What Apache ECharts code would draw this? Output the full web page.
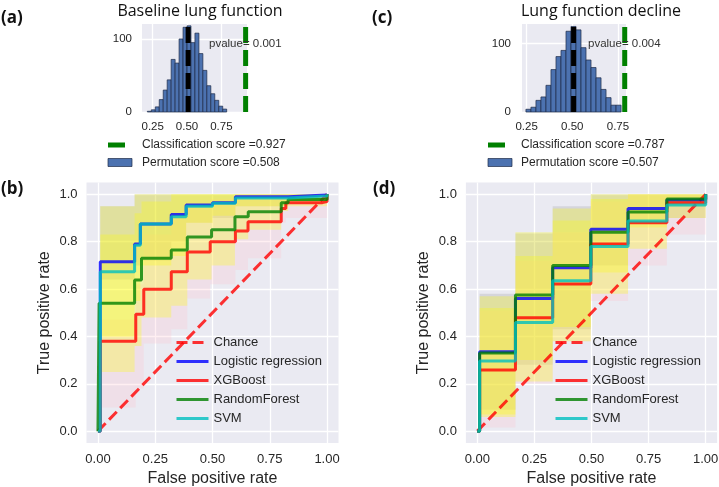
<!DOCTYPE html>
<html>
<head>
<meta charset="utf-8">
<script src="https://cdn.jsdelivr.net/npm/echarts@6/dist/echarts.min.js"></script>
<style>
  html, body { margin: 0; padding: 0; background: #fff; }
  #main { width: 719px; height: 487px; }
</style>
</head>
<body>
<div id="main"></div>
<script>
// ---- permutation histograms ----
var histACounts = [1, 3, 7, 17, 30, 44, 72, 67, 100, 116, 118, 95, 108, 80, 57, 36, 25, 16, 8, 4];
var histARange = [0.211, 0.789];
var scoreA = 0.927, permA = 0.508, pvalA = '0.001';

var histCCounts = [4, 7, 17, 22, 39, 62, 81, 90, 118, 125, 120, 94, 76, 65, 50, 33, 21, 10, 10];
var histCRange = [0.246, 0.767];
var scoreC = 0.787, permC = 0.507, pvalC = '0.004';

var histXTicks = [0.25, 0.5, 0.75];
var histYTicks = [0, 100];

// ---- ROC (b) baseline lung function: mean curves (step: level from x[i] until x[i+1]) ----
var lrBx  = [0, 0.01, 0.16, 0.185, 0.32, 0.385, 0.5, 0.6, 0.83, 1.0];
var lrBy  = [0, 0.715, 0.79, 0.875, 0.915, 0.955, 0.965, 0.99, 0.997, 1.0];
var svmBx = [0, 0.01, 0.16, 0.185, 0.32, 0.385, 0.5, 0.6, 0.83, 1.0];
var svmBy = [0, 0.673, 0.785, 0.875, 0.905, 0.95, 0.962, 0.985, 0.993, 1.0];
var rfBx  = [0, 0.005, 0.16, 0.19, 0.32, 0.39, 0.496, 0.598, 0.656, 0.8, 0.83, 1.0];
var rfBy  = [0, 0.54, 0.638, 0.73, 0.765, 0.82, 0.85, 0.905, 0.927, 0.965, 0.978, 1.0];
var xgbBx = [0, 0.01, 0.165, 0.2, 0.32, 0.39, 0.49, 0.6, 0.655, 0.8, 0.82, 0.98, 1.0];
var xgbBy = [0, 0.38, 0.494, 0.599, 0.673, 0.757, 0.80, 0.845, 0.884, 0.94, 0.965, 0.97, 1.0];

// bands (b): level on [x[i], x[i+1])
var lrBandBx = [0.01, 0.16, 0.185, 0.32, 0.385, 0.5, 0.6, 0.83, 1.0];
var lrBandBhi = [0.95, 1, 1, 1, 1, 1, 1, 1];
var lrBandBlo = [0.64, 0.7, 0.72, 0.8, 0.88, 0.9, 0.95, 0.97];
var svmBandBhi = [0.95, 1, 1, 1, 1, 1, 1, 1];
var svmBandBlo = [0.40, 0.55, 0.7, 0.74, 0.88, 0.91, 0.95, 0.97];
var rfBandBx = [0.01, 0.16, 0.19, 0.32, 0.39, 0.496, 0.598, 0.656, 0.8, 0.83, 1.0];
var rfBandBhi = [0.83, 0.92, 0.97, 1, 1, 1, 1, 1, 1, 1];
var rfBandBlo = [0.25, 0.36, 0.48, 0.53, 0.64, 0.7, 0.81, 0.85, 0.93, 0.95];
var xgbBandBx = [0.01, 0.165, 0.2, 0.32, 0.39, 0.49, 0.6, 0.655, 0.8, 0.82, 1.0];
var xgbBandBhi = [0.47, 0.62, 0.83, 0.91, 0.96, 0.98, 1, 1, 1, 1];
var xgbBandBlo = [0.1, 0.18, 0.37, 0.43, 0.56, 0.62, 0.68, 0.73, 0.88, 0.9];

// ---- ROC (d) lung function decline ----
var stepDx = [0, 0.01, 0.167, 0.33, 0.497, 0.66, 0.83, 1.0];
var lrDy  = [0, 0.335, 0.56, 0.69, 0.853, 0.94, 0.976, 1.0];
var xgbDy = [0, 0.258, 0.479, 0.621, 0.79, 0.88, 0.965, 1.0];
var rfDy  = [0, 0.33, 0.575, 0.70, 0.84, 0.925, 0.98, 1.0];
var svmDy = [0, 0.296, 0.459, 0.635, 0.78, 0.887, 0.955, 1.0];

var bandDx = [0.01, 0.167, 0.33, 0.497, 0.66, 0.83, 1.0];
var lrBandDhi  = [0.58, 0.835, 0.95, 1, 1, 1];
var lrBandDlo  = [0.09, 0.28, 0.43, 0.7, 0.88, 0.9];
var xgbBandDhi = [0.51, 0.72, 0.84, 0.97, 1, 1];
var xgbBandDlo = [0.015, 0.2, 0.38, 0.55, 0.7, 0.83];
var rfBandDhi  = [0.57, 0.84, 0.94, 1, 1, 1];
var rfBandDlo  = [0.07, 0.3, 0.44, 0.67, 0.86, 0.95];
var svmBandDhi = [0.52, 0.74, 0.89, 0.98, 1, 1];
var svmBandDlo = [0.06, 0.21, 0.38, 0.58, 0.77, 0.9];

var rocXTicks = [0, 0.25, 0.5, 0.75, 1.0];
var rocYTicks = [0, 0.2, 0.4, 0.6, 0.8, 1.0];
var modelNames = ['Chance', 'Logistic regression', 'XGBoost', 'RandomForest', 'SVM'];

var font = 'Liberation Sans, Arial, sans-serif';
var textCol = '#262626';
var bg = '#eaeaf2';
var col = {
  lr: 'rgba(0,0,255,0.8)', xgb: 'rgba(255,0,0,0.8)', rf: 'rgba(0,128,0,0.8)', svm: 'rgba(0,191,191,0.8)'
};
var fill = {
  grey: 'rgba(128,128,128,0.2)', pink: 'rgba(255,192,203,0.25)', yellow: 'rgba(255,255,0,0.28)'
};

var mychart = echarts.init(document.getElementById('main'));

function zip(xs, ys) {
  return xs.map(function (x, i) { return [x, ys[i]]; });
}

function histSeries(gi, counts, range) {
  var w = (range[1] - range[0]) / counts.length;
  var data = counts.map(function (c, i) { return [range[0] + i * w, range[0] + (i + 1) * w, c]; });
  return {
    type: 'custom', xAxisIndex: gi, yAxisIndex: gi, z: 2, silent: true,
    encode: { x: [0, 1], y: 2 },
    data: data,
    renderItem: function (params, api) {
      var p0 = api.coord([api.value(0), api.value(2)]);
      var p1 = api.coord([api.value(1), 0]);
      return {
        type: 'rect',
        shape: { x: p0[0], y: p0[1], width: p1[0] - p0[0], height: p1[1] - p0[1] },
        style: { fill: '#4c72b0', stroke: '#1e2b47', lineWidth: 0.7 }
      };
    }
  };
}

function vline(gi, x, ymax, color) {
  return {
    type: 'line', xAxisIndex: gi, yAxisIndex: gi, z: 4, symbol: 'none', silent: true,
    data: [[x, 0], [x, ymax]],
    lineStyle: { color: color, width: 5, type: [16, 7] }
  };
}

function band(gi, xs, lo, hi, color) {
  return {
    type: 'custom', xAxisIndex: gi, yAxisIndex: gi, z: 1, silent: true,
    data: [[xs[0], lo[0]]],
    renderItem: function (params, api) {
      var top = [], bot = [];
      for (var i = 0; i < xs.length - 1; i++) {
        top.push(api.coord([xs[i], hi[i]]), api.coord([xs[i + 1], hi[i]]));
        bot.push(api.coord([xs[i], lo[i]]), api.coord([xs[i + 1], lo[i]]));
      }
      return { type: 'polygon', shape: { points: top.concat(bot.reverse()) }, style: { fill: color } };
    }
  };
}

function roc(gi, name, xs, ys, color) {
  return {
    name: name, type: 'line', xAxisIndex: gi, yAxisIndex: gi, z: 3, symbol: 'none',
    step: 'end', data: zip(xs, ys), silent: true,
    lineStyle: { color: color, width: 3 }, itemStyle: { color: color }
  };
}

function chance(gi) {
  return {
    name: 'Chance', type: 'line', xAxisIndex: gi, yAxisIndex: gi, z: 3, symbol: 'none', silent: true,
    data: [[0, 0], [1, 1]],
    lineStyle: { color: 'rgba(255,0,0,0.8)', width: 3, type: [11, 5] }, itemStyle: { color: 'rgba(255,0,0,0.8)' }
  };
}

function gridBox(left, top, width, height) {
  return { left: left, top: top, width: width, height: height, show: true, backgroundColor: bg,
           borderWidth: 0, containLabel: false, outerBoundsMode: 'none' };
}

function valAxis(gi, min, max, ticks, digits, fs, margin, extra) {
  var ax = {
    gridIndex: gi, type: 'value', min: min, max: max,
    axisLine: { show: false },
    axisTick: { show: false, customValues: ticks },
    axisLabel: {
      customValues: ticks, fontSize: fs, color: textCol, fontFamily: font, margin: margin,
      formatter: function (v) { return digits < 0 ? String(Math.round(v)) : v.toFixed(digits); }
    },
    splitLine: { show: true, lineStyle: { color: '#ffffff', width: 1.3 } }
  };
  for (var k in extra) ax[k] = extra[k];
  return ax;
}

function rocLegend(left) {
  return {
    data: modelNames, orient: 'vertical', left: left, top: 331, itemWidth: 32, itemHeight: 14, itemGap: 6,
    selectedMode: false, itemStyle: { opacity: 0 }, lineStyle: { width: 3 },
    textStyle: { fontSize: 13, color: textCol, fontFamily: font }
  };
}

var histAYMax = 120.5, histCYMax = 128.6;
var axisNameStyle = { fontSize: 16, color: textCol, fontFamily: font };
var titleStyle = { fontSize: 16, fontFamily: 'Open Sans', fill: '#111', align: 'center', verticalAlign: 'middle' };
var panelStyle = { fontSize: 17, fontWeight: 'bold', fontFamily: 'Open Sans', fill: '#111', verticalAlign: 'middle' };

function styled(base, text) {
  var s = { text: text };
  for (var k in base) s[k] = base[k];
  return s;
}

var option = {
  animation: false,
  grid: [
    gridBox(142, 24, 105, 88),
    gridBox(522, 24, 104, 88),
    gridBox(86.5, 182.5, 252, 260.5),
    gridBox(465.9, 182.5, 251.2, 260.5)
  ],
  xAxis: [
    valAxis(0, 0.172, 0.937, histXTicks, 2, 11.5, 9, {}),
    valAxis(1, 0.2245, 0.794, histXTicks, 2, 11.5, 9, {}),
    valAxis(2, -0.05, 1.05, rocXTicks, 2, 13, 10, { name: 'False positive rate', nameLocation: 'middle', nameGap: 28, nameTextStyle: axisNameStyle }),
    valAxis(3, -0.05, 1.05, rocXTicks, 2, 13, 10, { name: 'False positive rate', nameLocation: 'middle', nameGap: 28, nameTextStyle: axisNameStyle })
  ],
  yAxis: [
    valAxis(0, 0, histAYMax, histYTicks, -1, 11.5, 10, {}),
    valAxis(1, 0, histCYMax, histYTicks, -1, 11.5, 11, {}),
    valAxis(2, -0.05, 1.05, rocYTicks, 1, 13, 9, { name: 'True positive rate', nameLocation: 'middle', nameGap: 34, nameTextStyle: axisNameStyle }),
    valAxis(3, -0.05, 1.05, rocYTicks, 1, 13, 9, { name: 'True positive rate', nameLocation: 'middle', nameGap: 34, nameTextStyle: axisNameStyle })
  ],
  legend: [rocLegend(170), rocLegend(549)],
  graphic: [
    { type: 'text', x: 200, y: 11, style: styled(titleStyle, 'Baseline lung function') },
    { type: 'text', x: 601, y: 11, style: styled(titleStyle, 'Lung function decline') },
    { type: 'text', x: 1, y: 18, style: styled(panelStyle, '(a)') },
    { type: 'text', x: 372, y: 18, style: styled(panelStyle, '(c)') },
    { type: 'text', x: 1, y: 189, style: styled(panelStyle, '(b)') },
    { type: 'text', x: 373, y: 189, style: styled(panelStyle, '(d)') },
    { type: 'text', x: 209, y: 43.5, z: 10, style: { text: 'pvalue= ' + pvalA, fontSize: 11.5, fontFamily: font, fill: '#333', verticalAlign: 'middle' } },
    { type: 'text', x: 588, y: 43.5, z: 10, style: { text: 'pvalue= ' + pvalC, fontSize: 11.5, fontFamily: font, fill: '#333', verticalAlign: 'middle' } },
    { type: 'rect', shape: { x: 108, y: 142.5, width: 17, height: 5 }, style: { fill: '#008000' } },
    { type: 'text', x: 142, y: 145, style: { text: 'Classification score =' + scoreA, fontSize: 12, fontFamily: font, fill: textCol, verticalAlign: 'middle' } },
    { type: 'rect', shape: { x: 108, y: 158.5, width: 24, height: 8 }, style: { fill: '#4c72b0', stroke: '#1e2b47', lineWidth: 0.7 } },
    { type: 'text', x: 142, y: 162.5, style: { text: 'Permutation score =' + permA, fontSize: 12, fontFamily: font, fill: textCol, verticalAlign: 'middle' } },
    { type: 'rect', shape: { x: 488, y: 142.5, width: 17, height: 5 }, style: { fill: '#008000' } },
    { type: 'text', x: 521, y: 145, style: { text: 'Classification score =' + scoreC, fontSize: 12, fontFamily: font, fill: textCol, verticalAlign: 'middle' } },
    { type: 'rect', shape: { x: 488, y: 158.5, width: 24, height: 8 }, style: { fill: '#4c72b0', stroke: '#1e2b47', lineWidth: 0.7 } },
    { type: 'text', x: 521, y: 162.5, style: { text: 'Permutation score =' + permC, fontSize: 12, fontFamily: font, fill: textCol, verticalAlign: 'middle' } }
  ],
  series: [
    histSeries(0, histACounts, histARange),
    vline(0, permA, histAYMax, '#000000'),
    vline(0, scoreA, histAYMax, '#008000'),
    histSeries(1, histCCounts, histCRange),
    vline(1, permC, histCYMax, '#000000'),
    vline(1, scoreC, histCYMax, '#008000'),

    band(2, lrBandBx, lrBandBlo, lrBandBhi, fill.grey),
    band(2, xgbBandBx, xgbBandBlo, xgbBandBhi, fill.pink),
    band(2, rfBandBx, rfBandBlo, rfBandBhi, fill.yellow),
    band(2, lrBandBx, svmBandBlo, svmBandBhi, fill.yellow),
    chance(2),
    roc(2, 'Logistic regression', lrBx, lrBy, col.lr),
    roc(2, 'XGBoost', xgbBx, xgbBy, col.xgb),
    roc(2, 'RandomForest', rfBx, rfBy, col.rf),
    roc(2, 'SVM', svmBx, svmBy, col.svm),

    band(3, bandDx, lrBandDlo, lrBandDhi, fill.grey),
    band(3, bandDx, xgbBandDlo, xgbBandDhi, fill.pink),
    band(3, bandDx, rfBandDlo, rfBandDhi, fill.yellow),
    band(3, bandDx, svmBandDlo, svmBandDhi, fill.yellow),
    chance(3),
    roc(3, 'Logistic regression', stepDx, lrDy, col.lr),
    roc(3, 'XGBoost', stepDx, xgbDy, col.xgb),
    roc(3, 'RandomForest', stepDx, rfDy, col.rf),
    roc(3, 'SVM', stepDx, svmDy, col.svm)
  ]
};

mychart.setOption(option);
</script>
</body>
</html>
